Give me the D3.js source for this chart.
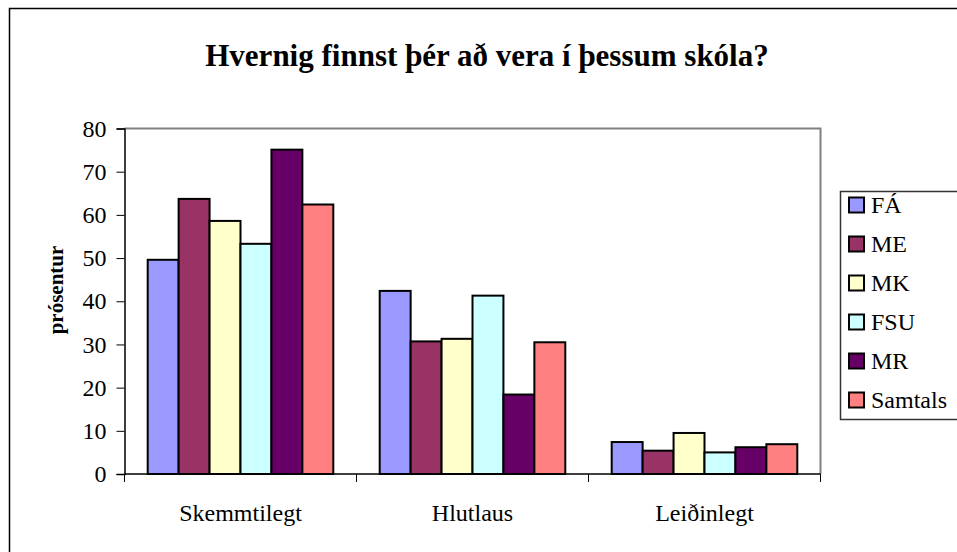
<html>
    <head>
        <script src="https://d3js.org/d3.v7.min.js"></script>
    </head>
    <body>
    <div id="graph"></div>

    <script>
        // chart values
        var categories = ["Skemmtilegt", "Hlutlaus", "Leiðinlegt"];
        var series = ["FÁ", "ME", "MK", "FSU", "MR", "Samtals"];
        var FA      = [49.6, 42.4, 7.4];
        var ME      = [63.7, 30.7, 5.4];
        var MK      = [58.6, 31.3, 9.5];
        var FSU     = [53.3, 41.3, 5.0];
        var MR      = [75.1, 18.4, 6.2];
        var Samtals = [62.4, 30.5, 6.9];
        var yTicks = [0, 10, 20, 30, 40, 50, 60, 70, 80];
        var colors = ["#9999FF", "#993366", "#FFFFCC", "#CCFFFF", "#660066", "#FF8080"];

        var values = [FA, ME, MK, FSU, MR, Samtals];

        var width = 957, height = 552;
        var plot = {left: 124.5, right: 820.5, top: 128.5, bottom: 474};

        var svg = d3.select("#graph")
            .append("svg")
              .attr("width", width)
              .attr("height", height);

        // outer chart border
        svg.append("rect")
            .attr("x", 9.5).attr("y", 8.5)
            .attr("width", 960).attr("height", 560)
            .attr("fill", "#fff")
            .attr("stroke", "#000").attr("stroke-width", 1.5);

        svg.append("text")
            .attr("x", 487).attr("y", 66)
            .attr("text-anchor", "middle")
            .style("font-size", "31px")
            .style("font-weight", "bold")
            .text("Hvernig finnst þér að vera í þessum skóla?");

        var x0 = d3.scaleBand()
            .domain(categories)
            .range([plot.left, plot.right]);

        var x1 = d3.scaleBand()
            .domain(series)
            .range([0, x0.bandwidth()])
            .paddingInner(0)
            .paddingOuter(0.75);

        var y = d3.scaleLinear()
            .domain([0, 80])
            .range([plot.bottom, plot.top]);

        // plot area frame (grey top + right)
        svg.append("path")
            .attr("d", "M" + plot.left + "," + plot.top + "H" + plot.right + "V" + plot.bottom)
            .attr("fill", "none")
            .attr("stroke", "#808080")
            .attr("stroke-width", 2);

        // bars
        var groups = svg.selectAll(".cat")
            .data(categories)
            .enter()
            .append("g")
              .attr("transform", function(d){ return "translate(" + x0(d) + ",0)" });

        groups.selectAll("rect")
            .data(function(d, i){
                return series.map(function(s, j){ return {s: s, v: values[j][i], c: colors[j]} });
            })
            .enter()
            .append("rect")
              .attr("x", function(d){ return x1(d.s) })
              .attr("y", function(d){ return y(d.v) })
              .attr("width", x1.bandwidth())
              .attr("height", function(d){ return plot.bottom - y(d.v) })
              .attr("fill", function(d){ return d.c })
              .attr("stroke", "#000")
              .attr("stroke-width", 2);

        // y axis
        var yAxis = d3.axisLeft(y)
            .tickValues(yTicks)
            .tickSize(8)
            .tickPadding(10)
            .tickFormat(d3.format("d"));

        var yGroup = svg.append("g")
            .attr("transform", "translate(" + plot.left + ",0)")
            .call(yAxis);
        yGroup.attr("font-family", null).attr("font-size", null);
        yGroup.select(".domain").attr("stroke", "#000").attr("stroke-width", 1.5);
        yGroup.selectAll(".tick line").attr("stroke", "#000");
        yGroup.selectAll(".tick text")
            .style("font-size", "24px")
            .attr("fill", "#000");

        // x axis: ticks at category boundaries
        var xGroup = svg.append("g");
        xGroup.append("line")
            .attr("x1", plot.left).attr("x2", plot.right)
            .attr("y1", plot.bottom).attr("y2", plot.bottom)
            .attr("stroke", "#000").attr("stroke-width", 1.5);
        xGroup.selectAll(".xt")
            .data(categories.concat(["end"]))
            .enter()
            .append("line")
              .attr("x1", function(d, i){ return i < categories.length ? x0(d) : plot.right })
              .attr("x2", function(d, i){ return i < categories.length ? x0(d) : plot.right })
              .attr("y1", plot.bottom).attr("y2", plot.bottom + 8)
              .attr("stroke", "#000").attr("stroke-width", 1);
        xGroup.selectAll(".xl")
            .data(categories)
            .enter()
            .append("text")
              .attr("x", function(d){ return x0(d) + x0.bandwidth() / 2 })
              .attr("y", 521)
              .attr("text-anchor", "middle")
              .style("font-size", "24px")
              .text(function(d){ return d });

        svg.append("text")
            .attr("transform", "translate(63,290) rotate(-90)")
            .attr("text-anchor", "middle")
            .style("font-size", "21px")
            .style("font-weight", "bold")
            .text("prósentur");

        // legend
        var legend = svg.append("g");
        legend.append("rect")
            .attr("x", 840.5).attr("y", 191.5)
            .attr("width", 140).attr("height", 228)
            .attr("fill", "#fff")
            .attr("stroke", "#333").attr("stroke-width", 1.5);

        var item = legend.selectAll(".li")
            .data(series)
            .enter()
            .append("g")
              .attr("transform", function(d, i){ return "translate(849," + (205 + i * 39) + ")" });
        item.append("rect")
            .attr("x", 0).attr("y", -7.5)
            .attr("width", 15).attr("height", 15)
            .attr("fill", function(d, i){ return colors[i] })
            .attr("stroke", "#000").attr("stroke-width", 2);
        item.append("text")
            .attr("x", 22).attr("y", 8)
            .style("font-size", "24px")
            .text(function(d){ return d });
    </script>
    </body>
</html>

<style>
    body{
        margin: 0;
        background: #fff;
    }
    svg text{
        font-family: "Liberation Serif", "DejaVu Serif", serif;
    }
</style>
